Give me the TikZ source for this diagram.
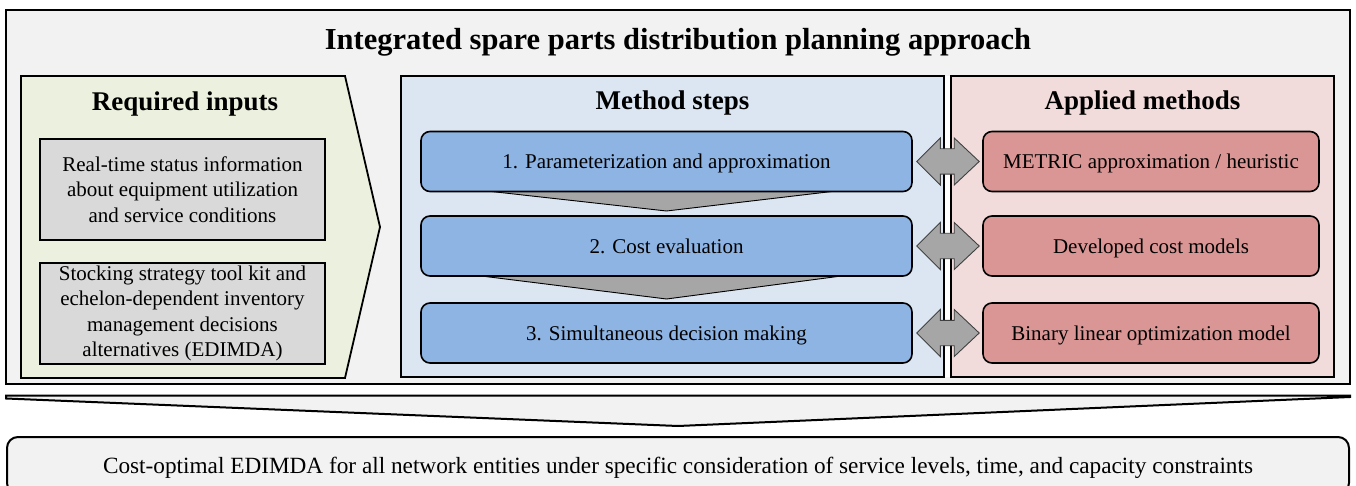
\documentclass[tikz,border=0pt]{standalone}
\usepackage{fontspec}
\setmainfont{Liberation Serif}
\usetikzlibrary{calc}
\definecolor{outerfill}{HTML}{F2F2F2}
\definecolor{greenfill}{HTML}{EBF1DE}
\definecolor{grayfill}{HTML}{D9D9D9}
\definecolor{bluepanel}{HTML}{DCE6F2}
\definecolor{bluestep}{HTML}{8EB4E3}
\definecolor{redpanel}{HTML}{F2DCDB}
\definecolor{redbox}{HTML}{D99694}
\definecolor{arrowgray}{HTML}{A6A6A6}
\newcommand\ftitle{\fontsize{30.5}{36}\selectfont\bfseries}
\newcommand\fhead{\fontsize{27}{32}\selectfont\bfseries}
\newcommand\fbody{\fontsize{21}{25.3}\selectfont}
\newcommand\fres{\fontsize{23.25}{28}\selectfont}
\begin{document}
\begin{tikzpicture}[x=1pt,y=-1pt,
  panel/.style={draw, line width=1.8pt, inner sep=0pt},
  inbox/.style={draw, line width=1.8pt, fill=grayfill, inner sep=0pt, align=center, font=\fbody,
    minimum width=285pt, minimum height=101pt},
  stepbox/.style={draw, line width=1.6pt, fill=bluestep, rounded corners=9pt, inner sep=0pt,
    font=\fbody, text height=15pt, text depth=0pt, minimum width=491pt, minimum height=60pt},
  methbox/.style={draw, line width=1.6pt, fill=redbox, rounded corners=9pt, inner sep=0pt,
    font=\fbody, text height=15pt, text depth=0pt, minimum width=336pt, minimum height=60pt},
  heading/.style={font=\fhead, anchor=base, inner sep=0pt},
  chev/.style={draw, line width=0.9pt, fill=arrowgray},
  dbl/.style={draw=black!75, line width=0.9pt, fill=arrowgray}
]
\useasboundingbox (0,0) rectangle (1356,486);

% outer frame
\node[panel, line width=2.6pt, fill=outerfill, minimum width=1344pt, minimum height=374pt] (outer) at (678,197) {};
\node[font=\ftitle, anchor=base, inner sep=0pt] (title) at (678,50) {Integrated spare parts distribution planning approach};

% required inputs (pentagon)
\draw[line width=1.8pt, fill=greenfill] (21,76) -- (345,76) -- (380,227) -- (345,378) -- (21,378) -- cycle;
\node[heading] (hin) at (185,111) {Required inputs};
\node[inbox] (in1) at (182.5,189.5) {Real-time status information\\about equipment utilization\\and service conditions};
\node[inbox] (in2) at (182.5,313.5) {Stocking strategy tool kit and\\echelon-dependent inventory\\management decisions\\alternatives (EDIMDA)};

% white gap between the two right panels
\fill[white] (944,76) rectangle (951,377);

% method steps panel
\node[panel, fill=bluepanel, minimum width=543pt, minimum height=301pt] (msp) at (672.5,226.5) {};
\node[heading] (hms) at (672.5,110) {Method steps};

% applied methods panel
\node[panel, fill=redpanel, minimum width=383pt, minimum height=301pt] (amp) at (1142.5,226.5) {};
\node[heading] (ham) at (1142.5,110) {Applied methods};

% step chevrons (behind boxes)
\coordinate (c1) at (666.5,211);
\coordinate (c2) at (666.5,299);
\draw[chev] (433,185) -- (887,185) -- (c1) -- cycle;
\draw[chev] (433,270) -- (887,270) -- (c2) -- cycle;

% steps
\node[stepbox] (s1) at (666.5,161.5) {1. Parameterization and approximation};
\node[stepbox] (s2) at (666.5,246) {2. Cost evaluation};
\node[stepbox] (s3) at (666.5,333) {3. Simultaneous decision making};

% methods
\node[methbox] (m1) at (1151,161.5) {METRIC approximation / heuristic};
\node[methbox] (m2) at (1151,246) {Developed cost models};
\node[methbox] (m3) at (1151,333) {Binary linear optimization model};

% double arrows
\foreach \s/\m in {s1/m1, s2/m2, s3/m3}{
  \draw[dbl] ($(\s.east)+(4,0)$) -- ($(\s.east)+(27.5,-23.5)$) -- ($(\s.east)+(27.5,-12.7)$)
    -- ($(\m.west)+(-28,-12.7)$) -- ($(\m.west)+(-28,-23.5)$) -- ($(\m.west)+(-3,0)$)
    -- ($(\m.west)+(-28,23.5)$) -- ($(\m.west)+(-28,12.7)$) -- ($(\s.east)+(27.5,12.7)$)
    -- ($(\s.east)+(27.5,23.5)$) -- cycle;
}

% big down chevron
\coordinate (bt) at (678,426);
\draw[line width=2pt, fill=outerfill, line join=miter] (6,395.5) -- (1350,395.5) -- (1350,397) -- (bt) -- (6,398.5) -- cycle;

% result box
\node[draw, line width=2pt, fill=outerfill, rounded corners=11pt, inner sep=0pt, font=\fres,
  text height=16pt, text depth=0pt, minimum width=1342pt, minimum height=57pt] (res) at (678,465.5)
  {Cost-optimal EDIMDA for all network entities under specific consideration of service levels, time, and capacity constraints};
\end{tikzpicture}
\end{document}
